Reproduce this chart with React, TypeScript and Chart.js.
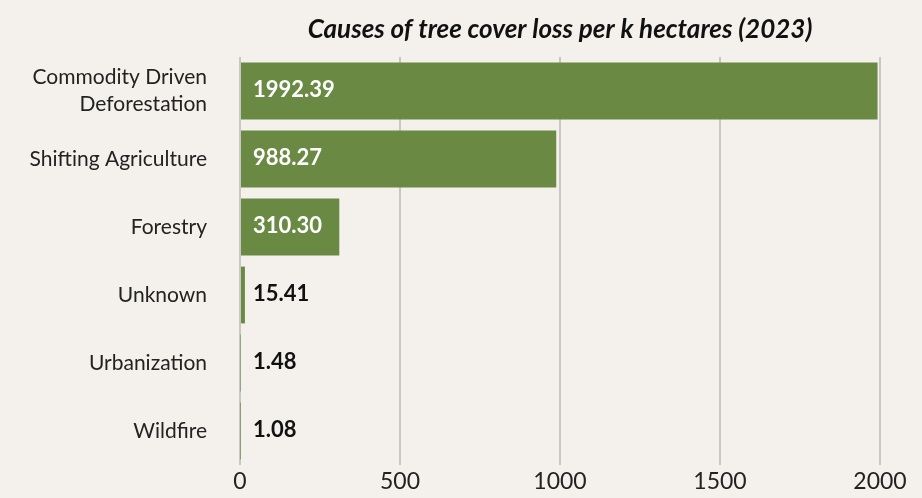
import React, { useEffect, useRef } from "react";
import { Chart, registerables } from "chart.js";

Chart.register(...registerables);

const categories: (string | string[])[] = [
  ["Commodity Driven", "Deforestation"],
  "Shifting Agriculture",
  "Forestry",
  "Unknown",
  "Urbanization",
  "Wildfire",
];
const lossValues = [1992.39, 988.27, 310.3, 15.41, 1.48, 1.08];
const valueLabels = ["1992.39", "988.27", "310.30", "15.41", "1.48", "1.08"];
const xTicks = [0, 500, 1000, 1500, 2000];
const titleText = "Causes of tree cover loss per k hectares (2023)";

const FONT = "Lato, 'Open Sans', sans-serif";
const BAR = "#6a8a44";
const BG = "#f4f1ed";

const titlePlugin = {
  id: "centeredTitle",
  afterDraw(chart: Chart) {
    const { ctx, chartArea } = chart;
    ctx.save();
    ctx.font = `italic 700 26px ${FONT}`;
    ctx.fillStyle = "#111111";
    ctx.textAlign = "center";
    ctx.textBaseline = "middle";
    ctx.fillText(titleText, (chartArea.left + chartArea.right) / 2, 30);
    ctx.restore();
  },
};

const valueLabelPlugin = {
  id: "valueLabels",
  afterDatasetsDraw(chart: Chart) {
    const { ctx } = chart;
    const meta = chart.getDatasetMeta(0);
    ctx.save();
    ctx.font = `700 22px ${FONT}`;
    ctx.textAlign = "left";
    ctx.textBaseline = "middle";
    meta.data.forEach((el: any, i: number) => {
      const text = valueLabels[i];
      const x0 = el.base + 12;
      const w = ctx.measureText(text).width;
      const inside = el.x - el.base > w + 24;
      ctx.fillStyle = inside ? "#ffffff" : "#111111";
      ctx.fillText(text, x0, el.y - 1);
    });
    ctx.restore();
  },
};

export default function App() {
  const ref = useRef<HTMLCanvasElement>(null);

  useEffect(() => {
    if (!ref.current) return;
    const chart = new Chart(ref.current, {
      type: "bar",
      data: {
        labels: categories,
        datasets: [
          {
            data: lossValues,
            backgroundColor: BAR,
            borderWidth: 0,
            barPercentage: 0.835,
            categoryPercentage: 1,
          },
        ],
      },
      options: {
        indexAxis: "y",
        animation: false,
        responsive: false,
        maintainAspectRatio: false,
        layout: { padding: { top: 57, right: 42, bottom: 0, left: 0 } },
        plugins: {
          legend: { display: false },
          tooltip: { enabled: false },
          title: { display: false },
        },
        scales: {
          x: {
            min: 0,
            max: 2000,
            afterBuildTicks(scale: any) {
              scale.ticks = xTicks.map((v) => ({ value: v }));
            },
            afterFit(scale: any) {
              scale.height = 33;
            },
            grid: {
              color: "#c9c7c3",
              lineWidth: 2,
              drawTicks: false,
            },
            border: { display: false },
            ticks: {
              color: "#222222",
              font: { family: FONT, size: 23, lineHeight: 1 },
              padding: 5,
              maxRotation: 0,
              callback: (v: any) => String(v),
            },
          },
          y: {
            grid: { display: false, drawTicks: false },
            border: { display: false },
            afterFit(scale: any) {
              scale.width = 240;
              scale.paddingTop = 0;
              scale.paddingBottom = 0;
            },
            ticks: {
              color: "#222222",
              font: { family: FONT, size: 21, lineHeight: 1.3 },
              padding: 33,
            },
          },
        },
      },
      plugins: [titlePlugin, valueLabelPlugin],
    });
    return () => chart.destroy();
  }, []);

  return (
    <div
      style={{
        position: "absolute",
        left: 0,
        top: 0,
        width: 922,
        height: 498,
        background: BG,
      }}
    >
      <canvas ref={ref} width={922} height={498} />
    </div>
  );
}
